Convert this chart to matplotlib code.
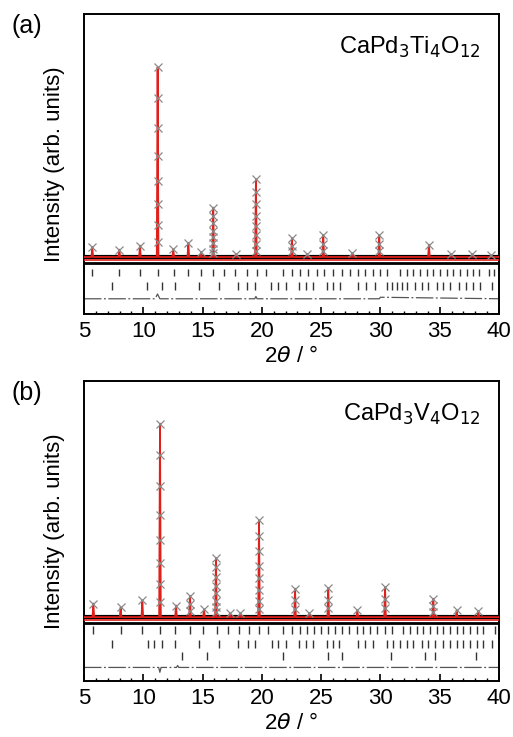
import matplotlib.pyplot as plt
import numpy as np
from matplotlib.ticker import MultipleLocator

plt.rcParams['font.family'] = ['Liberation Sans', 'DejaVu Sans']

# ---- (a) CaPd3Ti4O12 ----
peaks_a_x = [5.70, 7.98, 9.72, 11.21, 12.53, 13.80, 14.87, 15.90, 17.80, 19.50,
             22.54, 23.80, 25.18, 27.63, 29.90, 34.09, 35.93, 37.75, 39.30]
peaks_a_h = [5.3, 3.9, 6.0, 100.0, 4.0, 7.4, 2.6, 26.0, 1.5, 41.0,
             10.0, 1.5, 11.4, 2.0, 11.4, 6.5, 1.5, 1.5, 1.0]
refl1_a = [5.70, 7.98, 9.72, 11.27, 12.59, 13.80, 14.87, 15.85, 16.81, 17.76,
           18.72, 19.56, 20.32, 21.81, 22.51, 23.22, 23.92, 24.62, 25.27, 26.03,
           26.73, 27.43, 28.08, 28.70, 29.35, 29.96, 30.53, 31.65, 32.21, 32.78,
           33.34, 33.90, 34.46, 35.03, 35.59, 36.15, 36.71, 37.27, 37.84, 38.31,
           39.19, 39.58]
refl2_a = [7.33, 10.34, 11.61, 12.68, 14.70, 16.41, 17.96, 18.72, 19.42, 20.74,
           21.39, 22.04, 23.16, 23.72, 24.34, 25.47, 26.03, 26.59, 28.14, 28.78,
           29.54, 30.53, 30.95, 31.37, 31.79, 32.21, 32.92, 33.48, 34.04, 34.74,
           35.31, 35.87, 36.66, 37.22, 37.78, 38.40, 39.38]
refl3_a = []
diff_a_x = [5.0, 11.0, 11.2, 11.4, 19.4, 19.5, 19.6, 29.9, 30.0, 40.0]
diff_a_y = [0.0, 0.0, 2.5, 0.0, 0.0, 1.2, 0.0, 0.0, 0.8, 0.0]

# ---- (b) CaPd3V4O12 ----
peaks_b_x = [5.79, 8.09, 9.92, 11.41, 12.76, 13.94, 15.12, 16.13, 17.30, 18.20,
             19.76, 22.80, 24.00, 25.60, 28.05, 30.39, 34.46, 36.43, 38.26]
peaks_b_h = [7.0, 5.0, 8.6, 100.0, 6.0, 11.0, 4.0, 30.6, 2.0, 2.0,
             50.0, 14.7, 2.0, 15.0, 3.5, 15.5, 9.5, 3.5, 3.0]
refl1_b = [5.79, 8.09, 9.92, 11.41, 12.68, 13.94, 15.06, 16.19, 17.17, 18.10,
           18.94, 19.79, 20.55, 21.81, 22.51, 23.22, 23.78, 24.40, 24.96, 25.61,
           26.17, 26.73, 27.38, 28.00, 28.56, 29.12, 29.68, 30.39, 30.95, 31.93,
           32.50, 33.06, 33.62, 34.18, 34.74, 35.31, 35.87, 36.43, 36.99, 37.56,
           38.12, 38.68, 39.66]
refl2_b = [7.39, 10.37, 10.93, 11.55, 12.68, 14.70, 16.41, 18.02, 18.86, 19.42,
           20.83, 21.39, 22.04, 23.16, 23.72, 24.34, 25.47, 26.03, 26.54, 28.14,
           28.70, 29.40, 30.53, 31.09, 31.65, 32.21, 32.78, 33.48, 34.04, 34.60,
           35.31, 35.87, 36.43, 36.99, 37.56, 38.12, 38.68, 39.38]
refl3_b = [13.24, 15.40, 21.76, 25.61, 26.73, 30.86, 33.76, 34.60, 38.06]
diff_b_x = [5.0, 11.3, 11.4, 11.5, 12.8, 12.9, 13.0, 40.0]
diff_b_y = [0.0, 0.0, -2.5, 0.0, 0.0, 1.0, 0.0, 0.0]

panels = [
    dict(tag='(a)', name=r'CaPd$_3$Ti$_4$O$_{12}$', px=peaks_a_x, ph=peaks_a_h,
         refl=[refl1_a, refl2_a, refl3_a], dx=diff_a_x, dy=diff_a_y,
         ylim=(-30, 128), rows=[-8.2, -15.3], diff=-22.0),
    dict(tag='(b)', name=r'CaPd$_3$V$_4$O$_{12}$', px=peaks_b_x, ph=peaks_b_h,
         refl=[refl1_b, refl2_b, refl3_b], dx=diff_b_x, dy=diff_b_y,
         ylim=(-33, 122), rows=[-6.5, -13.8, -20.0], diff=-26.0),
]

fig = plt.figure(figsize=(5.13, 7.37), dpi=100)
boxes = [[0.1637, 0.574, 0.809, 0.407], [0.1637, 0.076, 0.809, 0.407]]
fracs_big = [1.0, 0.84, 0.68, 0.53, 0.4, 0.28, 0.17, 0.08]
fracs_mid = [1.0, 0.6, 0.3]

for box, p in zip(boxes, panels):
    ax = fig.add_axes(box)
    # calculated profile (red spikes)
    cx, cy = [5.0], [0.0]
    for x, h in zip(p['px'], p['ph']):
        cx += [x - 0.07, x, x + 0.07]
        cy += [0.0, h, 0.0]
    cx.append(40.0)
    cy.append(0.0)
    # baseline band of observed points
    ax.plot([5, 40], [0, 0], color='black', lw=3.0, zorder=2)
    ax.plot([5, 40], [-3.2, -3.2], color='black', lw=2.0, zorder=2)
    ax.plot([5, 40], [-1.7, -1.7], color='#e0201b', lw=1.2, zorder=3)
    ax.plot(cx, cy, color='#e0201b', lw=1.3, zorder=3)
    # observed points (x markers)
    ox, oy = [], []
    for x, h in zip(p['px'], p['ph']):
        fr = fracs_big if h > 25 else (fracs_mid if h > 9 else [1.0])
        for f in fr:
            ox.append(x)
            oy.append(h * f)
    ax.plot(ox, oy, 'x', color='#8a8a8a', ms=5.5, mew=0.9, zorder=4)
    # reflection markers
    for pos, yc in zip(p['refl'], p['rows']):
        if pos:
            ax.vlines(pos, yc - 2.0, yc + 2.0, color='#333333', lw=1.0)
    # difference curve
    ax.plot(p['dx'], np.array(p['dy']) + p['diff'], color='#555555', lw=0.9,
            ls=(0, (14, 2, 1.5, 2)))

    ax.set_xlim(5, 40)
    ax.set_ylim(*p['ylim'])
    ax.set_yticks([])
    ax.xaxis.set_major_locator(MultipleLocator(5))
    ax.xaxis.set_minor_locator(MultipleLocator(1))
    ax.tick_params(axis='x', which='major', direction='in', length=5, width=1.2,
                   labelsize=16, pad=5)
    ax.tick_params(axis='x', which='minor', direction='in', length=2.5, width=1.0)
    for s in ax.spines.values():
        s.set_linewidth(1.4)
    ax.set_xlabel(r'2$\theta$ / °', fontsize=16, labelpad=3)
    ax.set_ylabel('Intensity (arb. units)', fontsize=16, labelpad=14)
    ax.text(0.955, 0.93, p['name'], transform=ax.transAxes, ha='right', va='top',
            fontsize=17)
    ax.text(-0.175, 1.0, p['tag'], transform=ax.transAxes, ha='left', va='top',
            fontsize=18)

fig.savefig('out.png', dpi=100)
